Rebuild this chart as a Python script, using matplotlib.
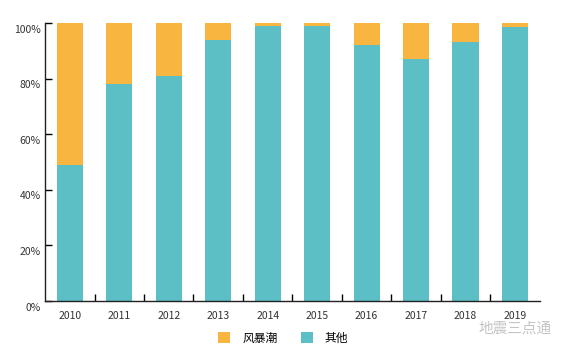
import matplotlib
matplotlib.use('Agg')
import matplotlib.pyplot as plt
import matplotlib.transforms as mtransforms
import numpy as np

plt.rcParams['font.family'] = ['Noto Sans CJK SC', 'DejaVu Sans']

years = ['2010', '2011', '2012', '2013', '2014', '2015', '2016', '2017', '2018', '2019']
other = [49, 78, 81, 94, 99, 99, 92, 87, 93, 98.5]
storm = [100 - v for v in other]
labels = ['风暴潮', '其他']
c_storm = '#F8B53F'
c_other = '#5BBFC5'

fig = plt.figure(figsize=(5.7, 3.53), dpi=100)
ax = fig.add_axes([0.079, 0.147, 0.868, 0.788])

x = np.arange(len(years))
ax.bar(x, other, width=0.53, color=c_other, label=labels[1])
ax.bar(x, storm, width=0.53, bottom=other, color=c_storm, label=labels[0])

ax.set_xlim(-0.5, len(years) - 0.5)
ax.set_ylim(0, 100)
ax.set_yticks(range(0, 101, 20))
ax.set_yticklabels([f'{v}%' for v in range(0, 101, 20)], fontsize=7.5, color='#333333')
ax.set_xticks(x)
ax.set_xticklabels(years, fontsize=7.5, color='#333333')
ax.set_xticks(np.arange(0.5, len(years) - 0.5, 1), minor=True)
ax.tick_params(axis='x', which='major', length=0, pad=7)
ax.tick_params(axis='x', which='minor', direction='in', length=5, width=1)
ax.tick_params(axis='y', direction='in', length=5, width=1, pad=3)

# y labels sit a little below their ticks in the original
off = mtransforms.ScaledTranslation(0, -4 / 72, fig.dpi_scale_trans)
for lab in ax.get_yticklabels():
    lab.set_transform(lab.get_transform() + off)

for s in ['top', 'right']:
    ax.spines[s].set_visible(False)
for s in ['left', 'bottom']:
    ax.spines[s].set_linewidth(1)
    ax.spines[s].set_color('#222222')

handles, labs = ax.get_legend_handles_labels()
fig.legend(handles[::-1], labs[::-1], loc='center', bbox_to_anchor=(0.497, 0.042), ncol=2,
           frameon=False, fontsize=8.5, handlelength=1, handleheight=1, columnspacing=2,
           handletextpad=1)

fig.text(0.968, 0.068, '地震三点通', fontsize=10.5, color='#c4c4c4', ha='right', va='center')

fig.savefig('out.png', dpi=100)
